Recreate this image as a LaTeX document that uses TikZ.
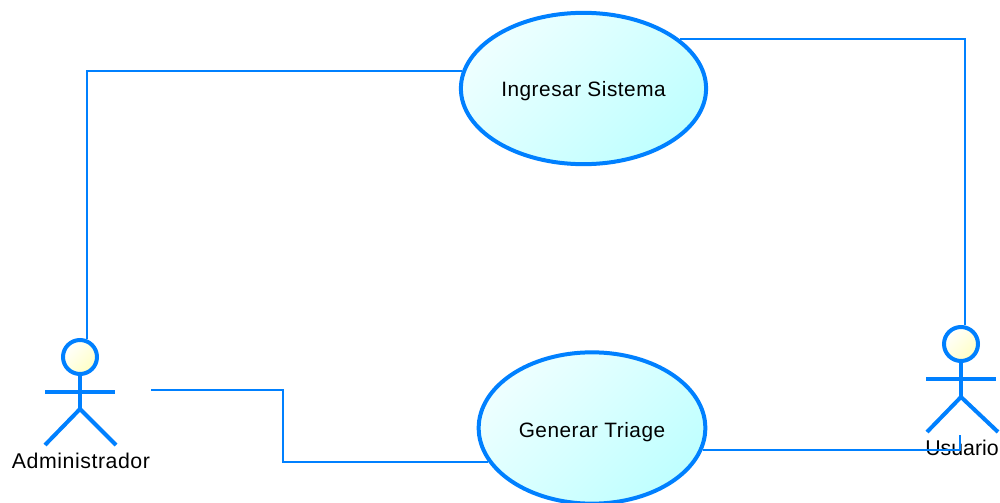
\documentclass[tikz,border=0pt]{standalone}
\usepackage{fontspec}
\setmainfont{Liberation Sans}
\newfontfamily\widefont[LetterSpace=2.5]{Liberation Sans}
\usetikzlibrary{shapes.geometric, arrows, positioning, calc}
\definecolor{umlblue}{HTML}{0080FF}
\definecolor{casetop}{HTML}{EEFFFF}
\definecolor{casebot}{HTML}{BFFFFF}
\definecolor{headtop}{HTML}{FFFFFF}
\definecolor{headbot}{HTML}{FFFFC4}
\tikzstyle{usecase} = [ellipse, minimum height=113.5pt, text centered, text depth=0pt, draw=umlblue, line width=3pt, top color=casetop, bottom color=casebot, shading angle=45, font=\widefont\fontsize{15.6}{18}\selectfont]
\tikzstyle{actorhead} = [circle, minimum size=25.5pt, inner sep=0pt, draw=umlblue, line width=3pt, top color=headtop, bottom color=headbot, shading angle=45]
\tikzstyle{limb} = [umlblue, line width=3pt]
\tikzstyle{actorname} = [inner sep=0pt, font=\fontsize{16}{18}\selectfont]
\tikzstyle{link} = [umlblue, line width=1.5pt]

\begin{document}
\begin{tikzpicture}[x=.75pt, y=-.75pt]
    \useasboundingbox (0,0) rectangle (1000,503);
    \node (ingresar) [usecase, minimum width=183pt, text height=12pt] at (583.5,88.5) {Ingresar Sistema};
    \node (generar) [usecase, minimum width=170pt, text height=14.5pt] at (592,428) {Generar Triage};

    \node (headA) [actorhead] at (80,357) {};
    \coordinate (hipA) at ($(headA)+(0,52)$);
    \coordinate (armA) at ($(headA)+(71,33)$);
    \node (nameA) [actorname, font=\widefont\fontsize{16}{18}\selectfont] at (81,461) {Administrador};
    \draw [limb] (headA.south) -- (hipA);
    \draw [limb] ($(headA)+(-35,35)$) -- ($(headA)+(35,35)$);
    \draw [limb] ($(hipA)+(-35,36)$) -- (hipA) -- ($(hipA)+(36,36)$);

    \node (headU) [actorhead] at (961,344) {};
    \coordinate (hipU) at ($(headU)+(0,53)$);
    \coordinate (tickU) at ($(headU)+(-1,91)$);
    \node (nameU) [actorname] at (962,448) {Usuario};
    \draw [limb] (headU.south) -- (hipU);
    \draw [limb] ($(headU)+(-35,35)$) -- ($(headU)+(35,35)$);
    \draw [limb] ($(hipU)+(-34,35)$) -- (hipU) -- ($(hipU)+(37,35)$);

    \coordinate (bendA) at (283,426);
    \draw [link] (headA.68) |- (ingresar.172.5);
    \draw [link] (ingresar.27) -| (headU.78);
    \draw [link] (armA) -| (bendA) |- (generar.198.5);
    \draw [link] (generar.349) -| (tickU);
\end{tikzpicture}
\end{document}
